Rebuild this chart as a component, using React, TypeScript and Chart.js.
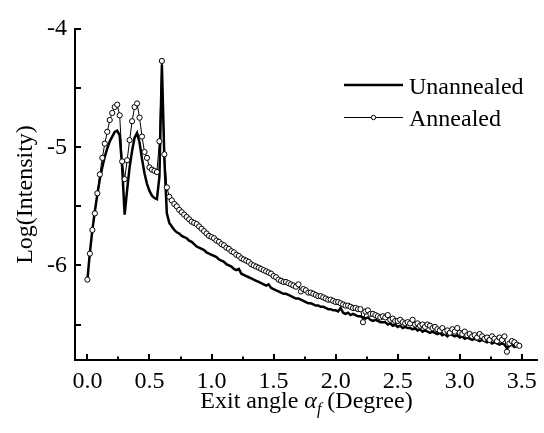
import React, { useEffect, useRef } from "react";
import { Chart, registerables } from "chart.js";

Chart.register(...registerables);

const FONT = "'Liberation Serif', 'Times New Roman', serif";

// Exit angle (degree)
const angles = [
  0.00, 0.02, 0.04, 0.06, 0.08, 0.10, 0.12, 0.14, 0.16, 0.18,
  0.20, 0.22, 0.24, 0.26, 0.28, 0.30, 0.32, 0.34, 0.36, 0.38,
  0.40, 0.42, 0.44, 0.46, 0.48, 0.50, 0.52, 0.54, 0.56, 0.58,
  0.60, 0.62, 0.64, 0.66, 0.68, 0.70, 0.72, 0.74, 0.76, 0.78,
  0.80, 0.82, 0.84, 0.86, 0.88, 0.90, 0.92, 0.94, 0.96, 0.98,
  1.00, 1.02, 1.04, 1.06, 1.08, 1.10, 1.12, 1.14, 1.16, 1.18,
  1.20, 1.22, 1.24, 1.26, 1.28, 1.30, 1.32, 1.34, 1.36, 1.38,
  1.40, 1.42, 1.44, 1.46, 1.48, 1.50, 1.52, 1.54, 1.56, 1.58,
  1.60, 1.62, 1.64, 1.66, 1.68, 1.70, 1.72, 1.74, 1.76, 1.78,
  1.80, 1.82, 1.84, 1.86, 1.88, 1.90, 1.92, 1.94, 1.96, 1.98,
  2.00, 2.02, 2.04, 2.06, 2.08, 2.10, 2.12, 2.14, 2.16, 2.18,
  2.20, 2.22, 2.24, 2.26, 2.28, 2.30, 2.32, 2.34, 2.36, 2.38,
  2.40, 2.42, 2.44, 2.46, 2.48, 2.50, 2.52, 2.54, 2.56, 2.58,
  2.60, 2.62, 2.64, 2.66, 2.68, 2.70, 2.72, 2.74, 2.76, 2.78,
  2.80, 2.82, 2.84, 2.86, 2.88, 2.90, 2.92, 2.94, 2.96, 2.98,
  3.00, 3.02, 3.04, 3.06, 3.08, 3.10, 3.12, 3.14, 3.16, 3.18,
  3.20, 3.22, 3.24, 3.26, 3.28, 3.30, 3.32, 3.34, 3.36, 3.38,
  3.40, 3.42, 3.44, 3.46, 3.48,
];

const unannealed = [
  -6.12, -5.89, -5.70, -5.54, -5.40, -5.27, -5.17, -5.08, -5.01, -4.95,
  -4.91, -4.87, -4.86, -4.90, -5.17, -5.57, -5.36, -5.17, -5.03, -4.92,
  -4.88, -4.96, -5.10, -5.22, -5.31, -5.37, -5.41, -5.43, -5.44, -5.25,
  -4.30, -5.10, -5.56, -5.64, -5.67, -5.70, -5.72, -5.73, -5.75, -5.76,
  -5.77, -5.79, -5.80, -5.82, -5.84, -5.85, -5.86, -5.87, -5.89, -5.90,
  -5.91, -5.92, -5.93, -5.95, -5.96, -5.97, -5.99, -6.00, -6.01, -6.03,
  -6.04, -6.03, -6.07, -6.08, -6.09, -6.10, -6.11, -6.12, -6.13, -6.14,
  -6.15, -6.16, -6.17, -6.16, -6.19, -6.20, -6.21, -6.22, -6.23, -6.24,
  -6.24, -6.25, -6.26, -6.27, -6.28, -6.28, -6.29, -6.30, -6.31, -6.32,
  -6.32, -6.33, -6.34, -6.34, -6.35, -6.35, -6.36, -6.37, -6.37, -6.38,
  -6.38, -6.39, -6.36, -6.40, -6.41, -6.40, -6.42, -6.41, -6.42, -6.43,
  -6.43, -6.44, -6.45, -6.44, -6.46, -6.47, -6.46, -6.47, -6.48, -6.48,
  -6.48, -6.50, -6.49, -6.51, -6.50, -6.52, -6.51, -6.53, -6.52, -6.53,
  -6.53, -6.54, -6.53, -6.55, -6.54, -6.56, -6.55, -6.56, -6.57, -6.56,
  -6.57, -6.58, -6.57, -6.59, -6.58, -6.60, -6.58, -6.59, -6.60, -6.59,
  -6.61, -6.60, -6.62, -6.61, -6.62, -6.63, -6.62, -6.63, -6.64, -6.63,
  -6.64, -6.65, -6.64, -6.66, -6.65, -6.66, -6.67, -6.66, -6.67, -6.70,
  -6.68, -6.67, -6.69, -6.68, -6.69,
];

const annealed = [
  -6.12, -5.90, -5.70, -5.56, -5.39, -5.23, -5.09, -4.97, -4.87, -4.77,
  -4.71, -4.66, -4.64, -4.73, -5.12, -5.27, -5.11, -4.94, -4.78, -4.66,
  -4.63, -4.75, -4.91, -5.04, -5.09, -5.17, -5.19, -5.20, -5.21, -4.95,
  -4.27, -5.06, -5.34, -5.42, -5.45, -5.48, -5.50, -5.53, -5.55, -5.57,
  -5.59, -5.61, -5.63, -5.64, -5.65, -5.67, -5.69, -5.71, -5.73, -5.75,
  -5.76, -5.77, -5.79, -5.80, -5.82, -5.83, -5.85, -5.86, -5.88, -5.89,
  -5.91, -5.92, -5.94, -5.95, -5.96, -5.97, -5.99, -6.00, -6.01, -6.02,
  -6.03, -6.04, -6.05, -6.06, -6.07, -6.09, -6.10, -6.12, -6.13, -6.14,
  -6.14, -6.15, -6.16, -6.17, -6.18, -6.16, -6.22, -6.20, -6.21, -6.23,
  -6.23, -6.24, -6.25, -6.26, -6.26, -6.27, -6.28, -6.29, -6.29, -6.30,
  -6.31, -6.31, -6.32, -6.33, -6.34, -6.34, -6.35, -6.36, -6.36, -6.37,
  -6.37, -6.48, -6.39, -6.38, -6.41, -6.41, -6.42, -6.43, -6.44, -6.43,
  -6.44, -6.42, -6.46, -6.45, -6.47, -6.47, -6.46, -6.48, -6.49, -6.48,
  -6.49, -6.46, -6.50, -6.49, -6.51, -6.50, -6.52, -6.50, -6.51, -6.53,
  -6.52, -6.54, -6.55, -6.53, -6.56, -6.55, -6.57, -6.54, -6.56, -6.53,
  -6.57, -6.58, -6.56, -6.59, -6.58, -6.60, -6.59, -6.61, -6.58, -6.60,
  -6.62, -6.61, -6.63, -6.60, -6.62, -6.64, -6.61, -6.63, -6.60, -6.73,
  -6.66, -6.64, -6.65, -6.67, -6.68,
];

const xTickValues = [0, 0.25, 0.5, 0.75, 1, 1.25, 1.5, 1.75, 2, 2.25, 2.5, 2.75, 3, 3.25, 3.5];
const xTickLabels = ["0.0", "", "0.5", "", "1.0", "", "1.5", "", "2.0", "", "2.5", "", "3.0", "", "3.5"];
const yTickValues = [-6.5, -6, -5.5, -5, -4.5, -4];
const yTickLabels = ["", "-6", "", "-5", "", "-4"];

const seriesNames = ["Unannealed", "Annealed"];

const tickPlugin = {
  id: "innerTicksAndTitle",
  afterDraw(chart: any) {
    const ctx = chart.ctx;
    const { left, right, bottom } = chart.chartArea;
    const xs = chart.scales.x;
    const ys = chart.scales.y;
    ctx.save();
    ctx.strokeStyle = "#000";
    ctx.lineWidth = 2;
    xs.ticks.forEach((t: any, i: number) => {
      const major = xTickLabels[i] !== "";
      const len = major ? 6 : 3.5;
      const px = Math.round(xs.getPixelForValue(t.value));
      ctx.beginPath();
      ctx.moveTo(px, bottom);
      ctx.lineTo(px, bottom - len);
      ctx.stroke();
    });
    ys.ticks.forEach((t: any) => {
      const py = Math.round(ys.getPixelForValue(t.value));
      ctx.beginPath();
      ctx.moveTo(left, py);
      ctx.lineTo(left + 6, py);
      ctx.stroke();
    });

    // x-axis title with italic alpha and subscript f
    const normal = `24px ${FONT}`;
    const ital = `italic 24px ${FONT}`;
    const sub = `italic 16px ${FONT}`;
    const parts = [
      { t: "Exit angle ", f: normal, dy: 0 },
      { t: "\u03B1", f: ital, dy: 0 },
      { t: "f", f: sub, dy: 6 },
      { t: " (Degree)", f: normal, dy: 0 },
    ];
    let total = 0;
    parts.forEach((p) => {
      ctx.font = p.f;
      total += ctx.measureText(p.t).width;
    });
    let x = (left + right) / 2 - total / 2;
    const baseY = chart.height - 25;
    ctx.fillStyle = "#000";
    ctx.textBaseline = "alphabetic";
    ctx.textAlign = "left";
    parts.forEach((p) => {
      ctx.font = p.f;
      ctx.fillText(p.t, x, baseY + p.dy);
      x += ctx.measureText(p.t).width;
    });

    // legend
    const lx0 = 344;
    const lx1 = 403;
    chart.data.datasets.forEach((ds: any, i: number) => {
      const ly = 85 + i * 32 + (ds.borderWidth < 2 ? 0.5 : 0);
      ctx.strokeStyle = ds.borderColor;
      ctx.lineWidth = ds.borderWidth;
      ctx.beginPath();
      ctx.moveTo(lx0, ly);
      ctx.lineTo(lx1, ly);
      ctx.stroke();
      if (ds.pointRadius > 0) {
        ctx.beginPath();
        ctx.arc((lx0 + lx1) / 2, ly, 2.2, 0, Math.PI * 2);
        ctx.fillStyle = ds.pointBackgroundColor;
        ctx.fill();
        ctx.lineWidth = ds.pointBorderWidth;
        ctx.strokeStyle = ds.pointBorderColor;
        ctx.stroke();
      }
      ctx.font = normal;
      ctx.fillStyle = "#000";
      ctx.fillText(ds.label, 409, 85 + i * 32 + 9);
    });
    ctx.restore();
  },
};

export default function App() {
  const ref = useRef<HTMLCanvasElement | null>(null);

  useEffect(() => {
    if (!ref.current) return;
    const chart = new Chart(ref.current, {
      type: "line",
      data: {
        datasets: [
          {
            label: seriesNames[0],
            data: angles.map((a, i) => ({ x: a, y: unannealed[i] })),
            borderColor: "#000",
            borderWidth: 2.5,
            pointRadius: 0,
            fill: false,
            tension: 0,
            order: 1,
          },
          {
            label: seriesNames[1],
            data: angles.map((a, i) => ({ x: a, y: annealed[i] })),
            borderColor: "#000",
            borderWidth: 1,
            pointRadius: 2.6,
            pointBackgroundColor: "#fff",
            pointBorderColor: "#000",
            pointBorderWidth: 1,
            fill: false,
            tension: 0,
            order: 0,
          },
        ],
      },
      options: {
        animation: false,
        responsive: false,
        devicePixelRatio: 1,
        layout: { padding: { top: 29, right: 3, left: 0, bottom: 0 } },
        plugins: {
          legend: { display: false },
          tooltip: { enabled: false },
        },
        scales: {
          x: {
            type: "linear",
            min: -0.1,
            max: 3.63,
            grid: { display: false, drawTicks: false },
            border: { display: true, color: "#000", width: 2 },
            afterBuildTicks: (scale: any) => {
              scale.ticks = xTickValues.map((v) => ({ value: v }));
            },
            afterFit: (scale: any) => {
              scale.height = 73;
            },
            ticks: {
              autoSkip: false,
              maxRotation: 0,
              padding: 7,
              color: "#000",
              font: { family: FONT, size: 24 },
              callback: (_v: any, i: number) => xTickLabels[i],
            },
          },
          y: {
            type: "linear",
            min: -6.8,
            max: -4,
            grid: { display: false, drawTicks: false },
            border: { display: true, color: "#000", width: 2 },
            afterBuildTicks: (scale: any) => {
              scale.ticks = yTickValues.map((v) => ({ value: v }));
            },
            afterFit: (scale: any) => {
              scale.width = 75;
            },
            ticks: {
              autoSkip: false,
              padding: 8,
              color: "#000",
              font: { family: FONT, size: 24 },
              callback: (_v: any, i: number) => yTickLabels[i],
            },
            title: {
              display: true,
              text: "Log(Intensity)",
              color: "#000",
              font: { family: FONT, size: 24 },
              padding: { top: 11, bottom: 0 },
            },
          },
        },
      },
      plugins: [tickPlugin],
    });
    return () => chart.destroy();
  }, []);

  return (
    <div style={{ position: "absolute", left: 0, top: 0, width: 544, height: 433, background: "#fff" }}>
      <canvas ref={ref} width={544} height={433} />
    </div>
  );
}
